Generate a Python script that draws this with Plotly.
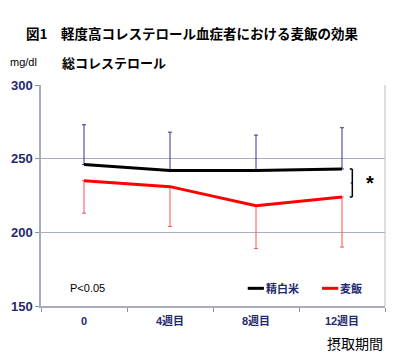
import plotly.graph_objects as go

categories = ["0", "4週目", "8週目", "12週目"]
white_rice_mean = [246, 242, 242, 243]
white_rice_sd = [27, 26, 24, 28]
barley_mean = [235, 231, 218, 224]
barley_sd = [22, 27, 29, 34]
y_ticks = [150, 200, 250, 300]
series_names = ["精白米", "麦飯"]
series_colors = ["black", "#ff0000"]

NAVY = "#1f2a6e"
FONT = "Liberation Sans, Arial, Noto Sans CJK JP, sans-serif"
JP = "Noto Sans CJK JP, sans-serif"

fig = go.Figure()
fig.add_trace(go.Scatter(
    x=categories, y=white_rice_mean, mode="lines", name=series_names[0],
    line=dict(color=series_colors[0], width=3),
    error_y=dict(type="data", symmetric=False, array=white_rice_sd,
                 arrayminus=[0] * len(white_rice_sd), color="#333399",
                 thickness=1, width=2),
))
fig.add_trace(go.Scatter(
    x=categories, y=barley_mean, mode="lines", name=series_names[1],
    line=dict(color=series_colors[1], width=3),
    error_y=dict(type="data", symmetric=False, array=[0] * len(barley_sd),
                 arrayminus=barley_sd, color="#ff5050",
                 thickness=1, width=2),
))

# significance bracket
bx = 3.12
top, bot = white_rice_mean[-1], barley_mean[-1]
mid = (top + bot) / 2
shapes = [
    dict(type="line", xref="x", yref="y", x0=bx, x1=bx, y0=top, y1=bot,
         line=dict(color="black", width=1.5)),
    dict(type="line", xref="x", yref="y", x0=bx - 0.03, x1=bx, y0=top, y1=top,
         line=dict(color="black", width=1.5)),
    dict(type="line", xref="x", yref="y", x0=bx - 0.03, x1=bx, y0=bot, y1=bot,
         line=dict(color="black", width=1.5)),
    dict(type="line", xref="x", yref="y", x0=bx - 0.02, x1=bx, y0=mid, y1=mid,
         line=dict(color="black", width=1)),
    # right border
    dict(type="line", xref="paper", yref="paper", x0=1, x1=1, y0=0, y1=1,
         line=dict(color="#b8bcc8", width=1)),
]

annotations = [
    dict(text="図1　軽度高コレステロール血症者における麦飯の効果",
         xref="paper", yref="paper", x=-0.05, y=1.0, yshift=52,
         xanchor="left", yanchor="middle", showarrow=False,
         font=dict(family=JP, size=13.5, color="black", weight="bold")),
    dict(text="mg/dl", xref="paper", yref="paper", x=-0.095, y=1.0, yshift=23,
         xanchor="left", yanchor="middle", showarrow=False,
         font=dict(family=FONT, size=11, color="black")),
    dict(text="総コレステロール", xref="paper", yref="paper", x=0.055, y=1.0,
         yshift=23, xanchor="left", yanchor="middle", showarrow=False,
         font=dict(family=JP, size=13, color="black", weight="bold")),
    dict(text="<b>*</b>", xref="x", yref="y", x=3.33, y=mid, showarrow=False,
         xanchor="center", yanchor="middle",
         font=dict(family=FONT, size=20, color="black")),
    dict(text="P<0.05", xref="paper", yref="paper", x=0.078, y=0.08,
         xanchor="left", yanchor="middle", showarrow=False,
         font=dict(family=FONT, size=11, color="black")),
    dict(text="摂取期間", xref="paper", yref="paper", x=1.0, y=0, yshift=-37,
         xanchor="right", yanchor="middle", showarrow=False,
         font=dict(family=JP, size=14, color="black", weight="normal")),
]

# manual compact legend (short line samples as in the reference)
legend_x = [0.601, 0.817]
for name, color, lx in zip(series_names, series_colors, legend_x):
    shapes.append(dict(type="line", xref="paper", yref="paper",
                       x0=lx, x1=lx + 0.047, y0=0.08, y1=0.08,
                       line=dict(color=color, width=3)))
    annotations.append(dict(text=name, xref="paper", yref="paper",
                            x=lx + 0.047, y=0.08, xanchor="left",
                            yanchor="middle", showarrow=False,
                            font=dict(family=JP, size=11, color=NAVY,
                                      weight="bold")))

# page body has an 8px default margin: figure sized/offset to compensate
fig.update_layout(
    width=384, height=344,
    margin=dict(l=33, r=7, t=77, b=46, autoexpand=False),
    paper_bgcolor="white", plot_bgcolor="white",
    shapes=shapes, annotations=annotations,
    showlegend=False,
    xaxis=dict(type="category", range=[-0.5, 3.5], tickson="boundaries",
               ticks="outside", ticklen=4, tickcolor="#8a90a0",
               ticklabelstandoff=4,
               showline=True, linecolor="#a8adbb", linewidth=1.5,
               showgrid=False, zeroline=False, automargin=False,
               tickfont=dict(family=FONT, size=11, color=NAVY, weight="bold")),
    yaxis=dict(range=[150, 300], tickvals=y_ticks, ticks="outside", ticklen=4,
               tickcolor="#8a90a0", showline=True, linecolor="#a8adbb",
               linewidth=1.5, gridcolor="#a8adbb", gridwidth=1, zeroline=False,
               automargin=False,
               tickfont=dict(family=FONT, size=13, color=NAVY, weight="bold")),
)

fig.write_html("out.html")
